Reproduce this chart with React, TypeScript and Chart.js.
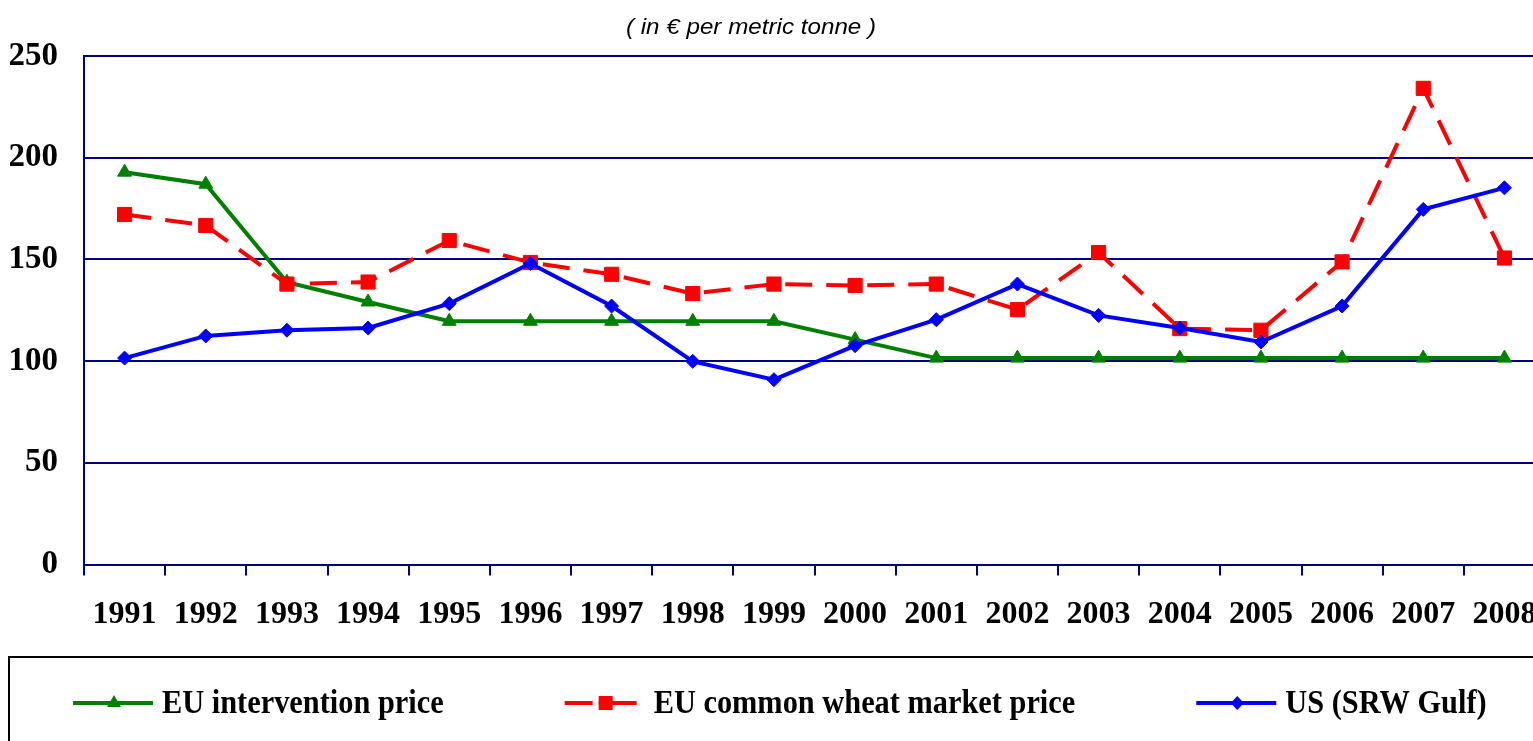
import React, { useEffect, useRef } from 'react';
import { Chart, registerables } from 'chart.js';

Chart.register(...registerables);

// ---- Data ----
const years = [
  '1991', '1992', '1993', '1994', '1995', '1996', '1997', '1998', '1999',
  '2000', '2001', '2002', '2003', '2004', '2005', '2006', '2007', '2008',
];

const euInterventionPrice = [
  192.9, 187.0, 138.8, 129.1, 119.6, 119.6, 119.6, 119.6, 119.6,
  110.6, 101.5, 101.5, 101.5, 101.5, 101.5, 101.5, 101.5, 101.5,
];

const euMarketPrice = [
  172.1, 166.7, 137.9, 138.9, 159.3, 148.5, 142.7, 133.2, 137.9,
  137.2, 137.9, 125.3, 153.4, 116.0, 115.2, 148.8, 234.1, 150.7,
];

const usSrwGulf = [
  101.5, 112.4, 115.2, 116.3, 128.3, 148.0, 127.1, 99.9, 90.9,
  107.6, 120.4, 137.9, 122.5, 116.3, 109.4, 127.1, 174.6, 185.2,
];

const seriesLabels = ['EU intervention price', 'EU common wheat market price', 'US (SRW Gulf)'];
const subtitle = '( in € per metric tonne )';
const yMin = 0;
const yMax = 250;
const yStep = 50;

// ---- Styles ----
const NAVY = '#000080';
const GREEN = '#008000';
const RED = '#FF0000';
const BLUE = '#0000FF';
const SERIF = '"Liberation Serif", "Times New Roman", serif';
const SANS = '"Liberation Sans", Arial, sans-serif';

const overlayPlugin = {
  id: 'overlay',
  afterDraw(chart: any) {
    const ctx: CanvasRenderingContext2D = chart.ctx;

    // subtitle
    ctx.save();
    ctx.font = `italic 22px ${SANS}`;
    ctx.fillStyle = '#000';
    ctx.textAlign = 'center';
    ctx.textBaseline = 'middle';
    ctx.translate(751, 28);
    ctx.scale(1.1, 1);
    ctx.fillText(subtitle, 0, 0);
    ctx.restore();

    // legend frame
    ctx.save();
    ctx.strokeStyle = '#000';
    ctx.lineWidth = 2;
    ctx.strokeRect(9, 657, 1700, 200);
    ctx.restore();

    // legend items
    const lineY = 703;
    const textBaseline = 713;
    const lineLen = 80;
    const textGap = 9;
    const itemGap = 121;
    const squeeze = 0.893;
    let x = 73;
    chart.data.datasets.forEach((ds: any) => {
      const color = ds.borderColor;
      ctx.save();
      ctx.strokeStyle = color;
      ctx.fillStyle = color;
      ctx.lineWidth = 4;
      ctx.setLineDash(ds.legendDash || []);
      ctx.beginPath();
      ctx.moveTo(x, lineY);
      ctx.lineTo(x + lineLen, lineY);
      ctx.stroke();
      ctx.setLineDash([]);
      const mx = x + 41;
      ctx.beginPath();
      if (ds.pointStyle === 'triangle') {
        ctx.moveTo(mx, lineY - 8);
        ctx.lineTo(mx + 7, lineY + 4);
        ctx.lineTo(mx - 7, lineY + 4);
        ctx.closePath();
      } else if (ds.pointStyle === 'rect') {
        ctx.rect(mx - 7, lineY - 7, 14, 14);
      } else {
        ctx.moveTo(mx, lineY - 7);
        ctx.lineTo(mx + 6.5, lineY);
        ctx.lineTo(mx, lineY + 7);
        ctx.lineTo(mx - 6.5, lineY);
        ctx.closePath();
      }
      ctx.fill();
      ctx.restore();

      ctx.save();
      ctx.font = `bold 34px ${SERIF}`;
      ctx.fillStyle = '#000';
      ctx.textAlign = 'left';
      ctx.textBaseline = 'alphabetic';
      const w = ctx.measureText(ds.label).width * squeeze;
      ctx.translate(x + lineLen + textGap, textBaseline);
      ctx.scale(squeeze, 1);
      ctx.fillText(ds.label, 0, 0);
      ctx.restore();
      x += lineLen + textGap + w + itemGap;
    });
  },
};

export default function App() {
  const ref = useRef<HTMLCanvasElement | null>(null);

  useEffect(() => {
    if (!ref.current) return;
    const chart = new Chart(ref.current, {
      type: 'line',
      data: {
        labels: years,
        datasets: [
          {
            label: seriesLabels[0],
            data: euInterventionPrice,
            borderColor: GREEN,
            backgroundColor: GREEN,
            borderWidth: 4,
            pointStyle: 'triangle',
            pointRadius: 8,
            pointBorderWidth: 1,
            pointBackgroundColor: GREEN,
            pointBorderColor: GREEN,
            tension: 0,
            order: 3,
          } as any,
          {
            label: seriesLabels[1],
            data: euMarketPrice,
            borderColor: RED,
            backgroundColor: RED,
            borderWidth: 4,
            borderDash: [27, 14],
            legendDash: [28, 6, 38, 8],
            pointStyle: 'rect',
            pointRadius: 10,
            pointBorderWidth: 1,
            pointBackgroundColor: RED,
            pointBorderColor: RED,
            tension: 0,
            order: 2,
          } as any,
          {
            label: seriesLabels[2],
            data: usSrwGulf,
            borderColor: BLUE,
            backgroundColor: BLUE,
            borderWidth: 4,
            pointStyle: 'rectRot',
            pointRadius: 7,
            pointBorderWidth: 1,
            pointBackgroundColor: BLUE,
            pointBorderColor: BLUE,
            tension: 0,
            order: 1,
          } as any,
        ],
      },
      options: {
        responsive: false,
        devicePixelRatio: 1,
        animation: false,
        layout: {
          padding: { top: 56, left: 10, right: 15, bottom: 106 },
        },
        plugins: {
          legend: { display: false },
          title: { display: false },
          tooltip: { enabled: false },
        },
        scales: {
          x: {
            type: 'category',
            offset: true,
            grid: {
              offset: true,
              drawOnChartArea: false,
              drawTicks: true,
              tickLength: 11,
              color: NAVY,
              lineWidth: 2,
            },
            border: { display: true, color: NAVY, width: 2 },
            ticks: {
              color: '#000',
              padding: 20,
              maxRotation: 0,
              autoSkip: false,
              font: { family: SERIF, size: 32, weight: 'bold' },
            },
          },
          y: {
            min: yMin,
            max: yMax,
            afterFit: (scale: any) => {
              scale.width = 74;
            },
            grid: {
              color: NAVY,
              lineWidth: 2,
              drawTicks: false,
            },
            border: { display: true, color: NAVY, width: 2 },
            ticks: {
              stepSize: yStep,
              color: '#000',
              padding: 26,
              font: { family: SERIF, size: 33, weight: 'bold' },
            },
          },
        },
      },
      plugins: [overlayPlugin],
    } as any);
    return () => chart.destroy();
  }, []);

  return (
    <div
      style={{
        position: 'fixed',
        left: 0,
        top: 0,
        width: 1533,
        height: 741,
        overflow: 'hidden',
        background: '#fff',
      }}
    >
      <canvas ref={ref} width={1560} height={760} style={{ display: 'block', width: 1560, height: 760 }} />
    </div>
  );
}
